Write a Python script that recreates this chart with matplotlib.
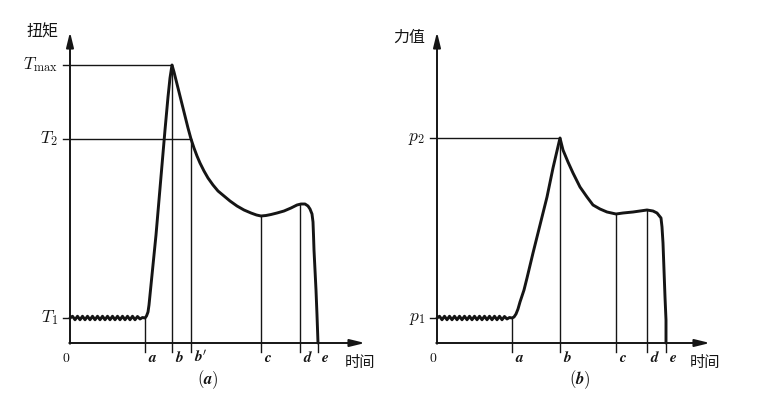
import matplotlib
matplotlib.use("Agg")
import matplotlib.pyplot as plt

plt.rcParams['font.family'] = ['Noto Sans CJK SC', 'DejaVu Sans']
plt.rcParams['mathtext.fontset'] = 'cm'

# ---- shared flat (rippled) start segment ----
ripple_t = [0.0, 0.1, 0.2, 0.3, 0.4, 0.5, 0.6, 0.7, 0.8, 0.9,
            1.0, 1.1, 1.2, 1.3, 1.4, 1.5, 1.6, 1.7, 1.8, 1.9,
            2.0, 2.1, 2.2, 2.3, 2.4, 2.5, 2.6, 2.7, 2.8, 2.9]
ripple_v = [1.00, 1.07, 0.93, 1.07, 0.93, 1.07, 0.93, 1.07, 0.93, 1.07,
            0.93, 1.07, 0.93, 1.07, 0.93, 1.07, 0.93, 1.07, 0.93, 1.07,
            0.93, 1.07, 0.93, 1.07, 0.93, 1.07, 0.93, 1.06, 0.96, 1.02]

# ---- panel (a): torque ----
torque_t = [3.00, 3.06, 3.12, 3.16, 3.20, 3.24, 3.32, 3.44, 3.56, 3.68,
            3.80, 3.92, 4.00, 4.08,
            4.16, 4.28, 4.44, 4.60, 4.72, 4.84, 4.96, 5.08, 5.20, 5.36,
            5.52, 5.72, 5.92, 6.16, 6.40, 6.68, 6.96, 7.24, 7.46, 7.64,
            7.84, 8.04, 8.28, 8.56, 8.84, 9.08, 9.24, 9.40, 9.52, 9.60,
            9.68, 9.72, 9.74, 9.76, 9.80, 9.84, 9.88, 9.92]
torque_v = [1.00, 1.08, 1.24, 1.52, 1.92, 2.32, 3.12, 4.32, 5.72, 7.12,
            8.52, 9.84, 10.60, 11.12,
            10.84, 10.36, 9.72, 9.08, 8.60, 8.16, 7.80, 7.48, 7.20, 6.88,
            6.60, 6.32, 6.08, 5.88, 5.68, 5.48, 5.32, 5.20, 5.12, 5.08,
            5.10, 5.14, 5.20, 5.28, 5.40, 5.52, 5.56, 5.56, 5.48, 5.36,
            5.16, 4.84, 4.32, 3.72, 2.92, 2.12, 1.12, 0.00]
a_names = ['a', 'b', "b'", 'c', 'd', 'e']
a_times = [3.00, 4.08, 4.84, 7.64, 9.20, 9.92]
a_tops = [1.00, 11.12, 8.16, 5.08, 5.56, 0.00]
a_levels = [11.12, 8.16, 1.00]
a_level_ends = [4.08, 4.84, 0.00]
a_level_names = [r'$T_{\rm max}$', r'$T_2$', r'$T_1$']

# ---- panel (b): force ----
force_t = [3.00, 3.08, 3.16, 3.24, 3.32, 3.48, 3.60, 3.84, 4.12, 4.40,
           4.64, 4.92,
           5.04, 5.24, 5.44, 5.72, 6.00, 6.24, 6.52, 6.80, 7.16, 7.44,
           7.84, 8.12, 8.40, 8.64, 8.80, 8.96, 9.00, 9.04, 9.08, 9.12,
           9.16, 9.16]
force_v = [1.00, 1.04, 1.16, 1.36, 1.64, 2.12, 2.60, 3.60, 4.72, 5.84,
           7.00, 8.20,
           7.72, 7.24, 6.80, 6.24, 5.84, 5.52, 5.36, 5.24, 5.16, 5.20,
           5.24, 5.28, 5.32, 5.28, 5.20, 5.00, 4.64, 4.00, 2.92, 1.84,
           0.92, 0.00]
b_names = ['a', 'b', 'c', 'd', 'e']
b_times = [3.00, 4.92, 7.16, 8.40, 9.16]
b_tops = [1.00, 8.20, 5.16, 5.32, 0.00]
b_levels = [8.20, 1.00]
b_level_ends = [4.92, 0.00]
b_level_names = [r'$p_2$', r'$p_1$']

INK = '#151515'

fig = plt.figure(figsize=(7.6, 4.0), dpi=100)
fig.patch.set_facecolor('white')


def panel(left_px, origin_px, times, tops, names, levels, level_ends,
          level_names, ct, cv, ylab, caption, x_end, cap_x, ylab_x, ylab_y,
          time_x):
    ax = fig.add_axes([left_px / 760, 5 / 400, 360 / 760, 380 / 400])
    ax.set_xlim((left_px - origin_px) / 25, (left_px + 360 - origin_px) / 25)
    ax.set_ylim(-2.08, 13.12)
    ax.axis('off')
    arrow = dict(arrowstyle='-|>,head_length=0.9,head_width=0.22',
                 lw=1.4, color=INK, shrinkA=0, shrinkB=0)
    ax.annotate('', xy=(x_end, 0), xytext=(-0.03, 0), arrowprops=arrow)
    ax.annotate('', xy=(0, 12.44), xytext=(0, -0.03), arrowprops=arrow)
    t = ripple_t + ct
    v = ripple_v + cv
    ax.plot(t, v, color=INK, lw=2.1, solid_capstyle='round',
            solid_joinstyle='round')
    for x, top, nm in zip(times, tops, names):
        ax.plot([x, x], [top, -0.36], color=INK, lw=1.0)
        if nm == "b'":
            lab = r"$\boldsymbol{b}'$"
        else:
            lab = r'$\boldsymbol{%s}$' % nm
        ax.text(x + 0.12, -0.6, lab, fontsize=11, ha='left', va='center',
                color=INK)
    for y, xe, nm in zip(levels, level_ends, level_names):
        ax.plot([-0.3, xe], [y, y], color=INK, lw=1.0)
        ax.text(-0.48, y, nm, fontsize=12.5, ha='right', va='center',
                color=INK)
    ax.text(-0.16, -0.58, r'$\mathbf{0}$', fontsize=10, ha='center',
            va='center', color=INK)
    ax.text(ylab_x, ylab_y, ylab, fontsize=11.5, ha='center', va='center',
            color=INK, fontweight='medium')
    ax.text(time_x, -0.76, '时间', fontsize=11, ha='center', va='center',
            color=INK, fontweight='medium')
    ax.text(cap_x, -1.48, caption, fontsize=12, ha='center', va='center',
            color=INK)
    return ax


panel(20, 70, a_times, a_tops, a_names, a_levels, a_level_ends,
      a_level_names, torque_t, torque_v, '扭矩', r'$(\boldsymbol{a})$',
      11.8, 5.52, -1.12, 12.44, 11.6)
panel(400, 437, b_times, b_tops, b_names, b_levels, b_level_ends,
      b_level_names, force_t, force_v, '力值', r'$(\boldsymbol{b})$',
      10.92, 5.72, -1.12, 12.24, 10.72)

fig.savefig('out.png', dpi=100, facecolor='white')
